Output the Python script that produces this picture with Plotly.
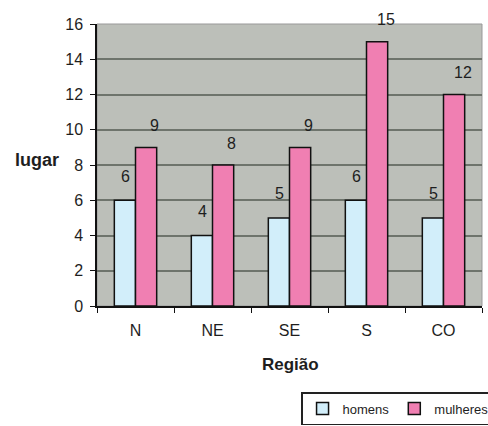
import plotly.graph_objects as go

regioes = ["N", "NE", "SE", "S", "CO"]
homens = [6, 4, 5, 6, 5]
mulheres = [9, 8, 9, 15, 12]

FONT = "Liberation Sans, Arial, sans-serif"
TXT = "#1e1e1e"

fig = go.Figure()
fig.add_trace(go.Bar(name="homens", x=regioes, y=homens,
                     marker=dict(color="#D2EEFA", line=dict(color="#111111", width=1.5))))
fig.add_trace(go.Bar(name="mulheres", x=regioes, y=mulheres,
                     marker=dict(color="#F07FB2", line=dict(color="#111111", width=1.5))))

annotations = []
for r, v in zip(regioes, homens):
    annotations.append(dict(x=r, y=v, xref="x", yref="y", text=str(v), showarrow=False,
                            xanchor="center", yanchor="middle",
                            xshift=-10, yshift=24, font=dict(family=FONT, size=16, color=TXT)))
for r, v in zip(regioes, mulheres):
    annotations.append(dict(x=r, y=v, xref="x", yref="y", text=str(v), showarrow=False,
                            xanchor="center", yanchor="middle",
                            xshift=19, yshift=22, font=dict(family=FONT, size=16, color=TXT)))
annotations.append(dict(x=-0.093, y=0.518, xref="paper", yref="paper", text="<b>lugar</b>",
                        showarrow=False, xanchor="right", yanchor="middle",
                        font=dict(family=FONT, size=18, color=TXT)))
annotations.append(dict(x=0.502, y=-0.208, xref="paper", yref="paper", text="<b>Região</b>",
                        showarrow=False, xanchor="center", yanchor="middle",
                        font=dict(family=FONT, size=17, color=TXT)))

fig.update_layout(
    width=488, height=426,
    margin=dict(l=97, r=6, t=24, b=120, autoexpand=False),
    paper_bgcolor="white", plot_bgcolor="#BCBFB9",
    barmode="group", bargap=0.45, bargroupgap=0,
    font=dict(family=FONT, size=14, color=TXT),
    annotations=annotations,
    showlegend=True,
    legend=dict(orientation="h", x=0.53, y=-0.305, xanchor="left", yanchor="top",
                bordercolor="#222222", borderwidth=1.5, bgcolor="white",
                font=dict(family=FONT, size=13, color=TXT),
                itemwidth=30, tracegroupgap=0),
    xaxis=dict(showline=True, linecolor="#111111", linewidth=1.5, ticks="outside",
               tickson="boundaries", ticklen=5, tickcolor="#111111",
               ticklabelstandoff=9,
               tickfont=dict(family=FONT, size=16, color=TXT), showgrid=False),
    yaxis=dict(range=[0, 16], dtick=2, showline=True, linecolor="#111111", linewidth=1.5,
               ticks="outside", ticklen=5, tickcolor="#111111", ticklabelstandoff=4,
               tickfont=dict(family=FONT, size=16, color=TXT),
               showgrid=True, gridcolor="#6E746C", gridwidth=1.5, zeroline=False),
)
fig.add_shape(type="rect", xref="paper", yref="paper", x0=0, x1=1, y0=0, y1=1,
              line=dict(color="#999999", width=1), layer="below")

fig.write_html("out.html")
